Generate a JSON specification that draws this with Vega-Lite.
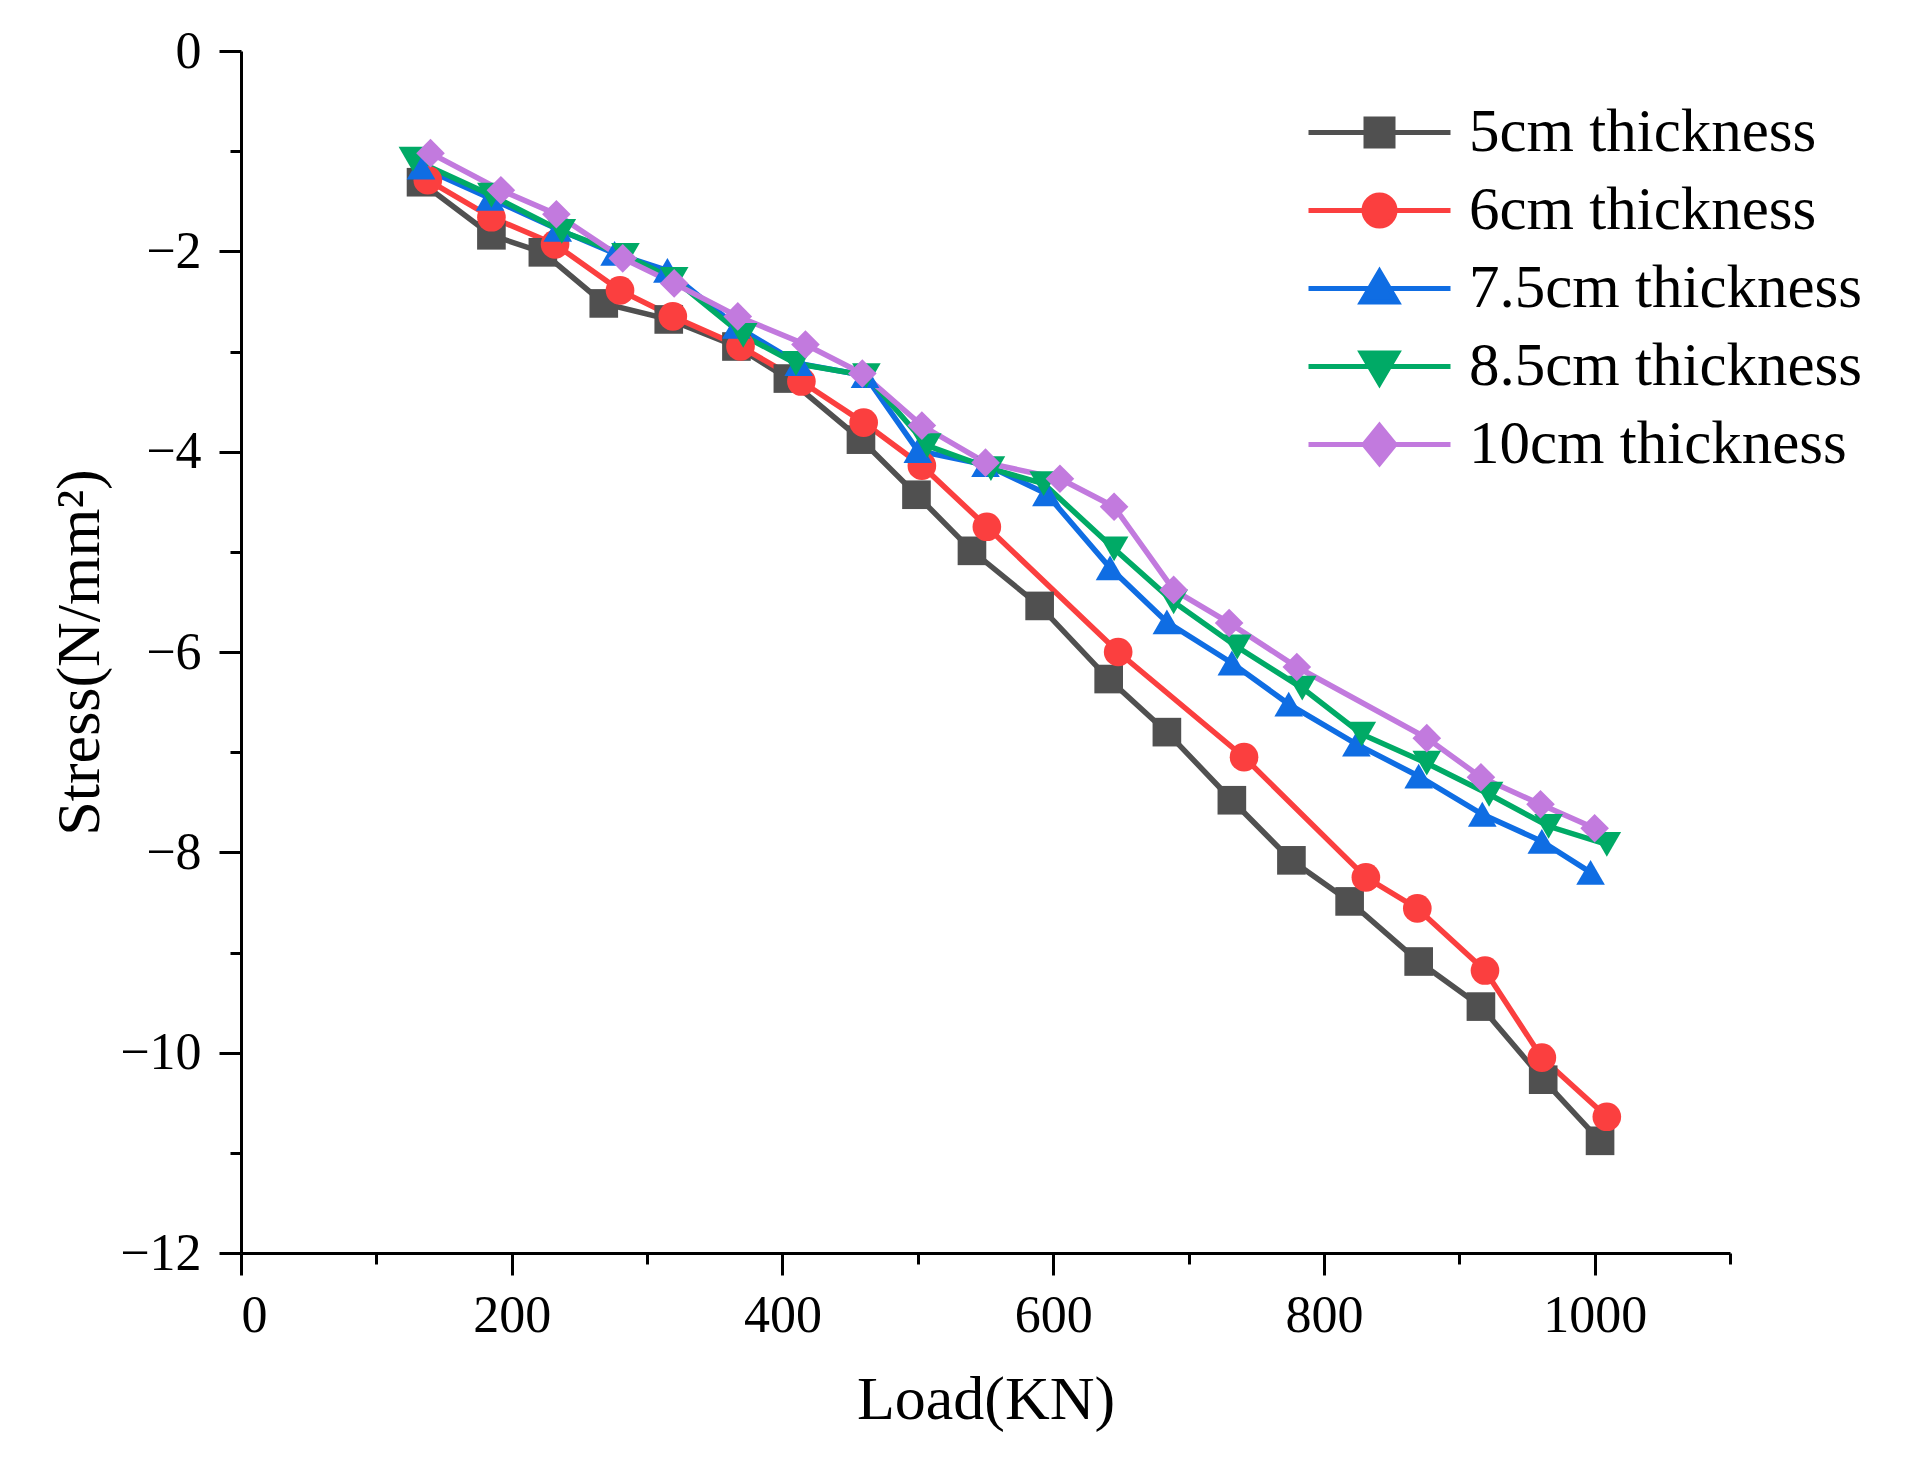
{
  "$schema": "https://vega.github.io/schema/vega-lite/v6.json",
  "width": 1489,
  "height": 1202,
  "autosize": {"type": "none"},
  "padding": {"left": 241, "top": 51, "right": 180, "bottom": 219},
  "background": "white",
  "config": {
    "view": {"stroke": null},
    "font": "Liberation Serif",
    "axis": {
      "grid": false,
      "domainColor": "black",
      "domainWidth": 3,
      "tickColor": "black",
      "tickWidth": 3,
      "labelColor": "black",
      "titleColor": "black",
      "labelFont": "Liberation Serif",
      "titleFont": "Liberation Serif",
      "labelFontSize": 52,
      "titleFontSize": 62,
      "titleFontWeight": "normal"
    },
    "legend": {
      "orient": "none",
      "legendX": 1108,
      "legendY": 51,
      "padding": 0,
      "labelFont": "Liberation Serif",
      "labelFontSize": 61,
      "labelColor": "black",
      "labelOffset": 59,
      "rowPadding": 16,
      "symbolSize": 2500,
      "symbolStrokeWidth": 5,
      "symbolOpacity": 1,
      "labelLimit": 600
    }
  },
  "data": {
    "values": [
      {"series": "5cm thickness", "load": 133, "stress": -1.31},
      {"series": "5cm thickness", "load": 185, "stress": -1.84},
      {"series": "5cm thickness", "load": 223, "stress": -2.01},
      {"series": "5cm thickness", "load": 268, "stress": -2.52},
      {"series": "5cm thickness", "load": 316, "stress": -2.68},
      {"series": "5cm thickness", "load": 366, "stress": -2.95},
      {"series": "5cm thickness", "load": 404, "stress": -3.27},
      {"series": "5cm thickness", "load": 458, "stress": -3.88},
      {"series": "5cm thickness", "load": 499, "stress": -4.43},
      {"series": "5cm thickness", "load": 540, "stress": -4.99},
      {"series": "5cm thickness", "load": 590, "stress": -5.54},
      {"series": "5cm thickness", "load": 641, "stress": -6.27},
      {"series": "5cm thickness", "load": 684, "stress": -6.8},
      {"series": "5cm thickness", "load": 732, "stress": -7.48},
      {"series": "5cm thickness", "load": 776, "stress": -8.08},
      {"series": "5cm thickness", "load": 819, "stress": -8.49},
      {"series": "5cm thickness", "load": 870, "stress": -9.09},
      {"series": "5cm thickness", "load": 916, "stress": -9.54},
      {"series": "5cm thickness", "load": 962, "stress": -10.27},
      {"series": "5cm thickness", "load": 1004, "stress": -10.88},
      {"series": "6cm thickness", "load": 138, "stress": -1.29},
      {"series": "6cm thickness", "load": 185, "stress": -1.66},
      {"series": "6cm thickness", "load": 232, "stress": -1.93},
      {"series": "6cm thickness", "load": 280, "stress": -2.39},
      {"series": "6cm thickness", "load": 319, "stress": -2.65},
      {"series": "6cm thickness", "load": 369, "stress": -2.95},
      {"series": "6cm thickness", "load": 414, "stress": -3.3},
      {"series": "6cm thickness", "load": 460, "stress": -3.71},
      {"series": "6cm thickness", "load": 503, "stress": -4.14},
      {"series": "6cm thickness", "load": 551, "stress": -4.75},
      {"series": "6cm thickness", "load": 648, "stress": -6.0},
      {"series": "6cm thickness", "load": 741, "stress": -7.05},
      {"series": "6cm thickness", "load": 831, "stress": -8.25},
      {"series": "6cm thickness", "load": 869, "stress": -8.56},
      {"series": "6cm thickness", "load": 919, "stress": -9.18},
      {"series": "6cm thickness", "load": 961, "stress": -10.05},
      {"series": "6cm thickness", "load": 1009, "stress": -10.64},
      {"series": "7.5cm thickness", "load": 133, "stress": -1.16},
      {"series": "7.5cm thickness", "load": 184, "stress": -1.47},
      {"series": "7.5cm thickness", "load": 234, "stress": -1.78},
      {"series": "7.5cm thickness", "load": 276, "stress": -2.02},
      {"series": "7.5cm thickness", "load": 315, "stress": -2.19},
      {"series": "7.5cm thickness", "load": 366, "stress": -2.75},
      {"series": "7.5cm thickness", "load": 412, "stress": -3.12},
      {"series": "7.5cm thickness", "load": 461, "stress": -3.24},
      {"series": "7.5cm thickness", "load": 500, "stress": -3.99},
      {"series": "7.5cm thickness", "load": 550, "stress": -4.13},
      {"series": "7.5cm thickness", "load": 595, "stress": -4.42},
      {"series": "7.5cm thickness", "load": 642, "stress": -5.16},
      {"series": "7.5cm thickness", "load": 684, "stress": -5.7},
      {"series": "7.5cm thickness", "load": 732, "stress": -6.11},
      {"series": "7.5cm thickness", "load": 774, "stress": -6.52},
      {"series": "7.5cm thickness", "load": 824, "stress": -6.92},
      {"series": "7.5cm thickness", "load": 870, "stress": -7.24},
      {"series": "7.5cm thickness", "load": 917, "stress": -7.62},
      {"series": "7.5cm thickness", "load": 961, "stress": -7.89},
      {"series": "7.5cm thickness", "load": 997, "stress": -8.2},
      {"series": "8.5cm thickness", "load": 127, "stress": -1.08},
      {"series": "8.5cm thickness", "load": 185, "stress": -1.44},
      {"series": "8.5cm thickness", "load": 237, "stress": -1.8},
      {"series": "8.5cm thickness", "load": 284, "stress": -2.04},
      {"series": "8.5cm thickness", "load": 320, "stress": -2.28},
      {"series": "8.5cm thickness", "load": 371, "stress": -2.84},
      {"series": "8.5cm thickness", "load": 410, "stress": -3.12},
      {"series": "8.5cm thickness", "load": 462, "stress": -3.24},
      {"series": "8.5cm thickness", "load": 507, "stress": -3.94},
      {"series": "8.5cm thickness", "load": 554, "stress": -4.17},
      {"series": "8.5cm thickness", "load": 593, "stress": -4.32},
      {"series": "8.5cm thickness", "load": 645, "stress": -4.97},
      {"series": "8.5cm thickness", "load": 689, "stress": -5.5},
      {"series": "8.5cm thickness", "load": 736, "stress": -5.95},
      {"series": "8.5cm thickness", "load": 784, "stress": -6.36},
      {"series": "8.5cm thickness", "load": 828, "stress": -6.82},
      {"series": "8.5cm thickness", "load": 876, "stress": -7.11},
      {"series": "8.5cm thickness", "load": 922, "stress": -7.42},
      {"series": "8.5cm thickness", "load": 966, "stress": -7.74},
      {"series": "8.5cm thickness", "load": 1009, "stress": -7.92},
      {"series": "10cm thickness", "load": 140, "stress": -1.02},
      {"series": "10cm thickness", "load": 192, "stress": -1.39},
      {"series": "10cm thickness", "load": 233, "stress": -1.63},
      {"series": "10cm thickness", "load": 282, "stress": -2.07},
      {"series": "10cm thickness", "load": 320, "stress": -2.32},
      {"series": "10cm thickness", "load": 367, "stress": -2.65},
      {"series": "10cm thickness", "load": 417, "stress": -2.93},
      {"series": "10cm thickness", "load": 459, "stress": -3.22},
      {"series": "10cm thickness", "load": 503, "stress": -3.74},
      {"series": "10cm thickness", "load": 550, "stress": -4.11},
      {"series": "10cm thickness", "load": 605, "stress": -4.27},
      {"series": "10cm thickness", "load": 645, "stress": -4.55},
      {"series": "10cm thickness", "load": 689, "stress": -5.38},
      {"series": "10cm thickness", "load": 730, "stress": -5.71},
      {"series": "10cm thickness", "load": 780, "stress": -6.15},
      {"series": "10cm thickness", "load": 876, "stress": -6.86},
      {"series": "10cm thickness", "load": 916, "stress": -7.25},
      {"series": "10cm thickness", "load": 960, "stress": -7.52},
      {"series": "10cm thickness", "load": 1000, "stress": -7.76}
    ]
  },
  "layer": [
    {
      "mark": {"type": "line", "strokeWidth": 5.5},
      "encoding": {
        "x": {
          "field": "load", "type": "quantitative",
          "scale": {"domain": [0, 1100], "nice": false, "zero": false},
          "axis": {
            "title": "Load(KN)",
            "values": [0, 200, 400, 600, 800, 1000],
            "format": "d",
            "tickSize": 22,
            "labelPadding": 15,
            "titlePadding": 28
          }
        },
        "y": {
          "field": "stress", "type": "quantitative",
          "scale": {"domain": [-12, 0], "nice": false, "zero": false},
          "axis": {
            "title": "Stress(N/mm²)",
            "values": [-12, -10, -8, -6, -4, -2, 0],
            "tickSize": 22,
            "labelPadding": 18,
            "titlePadding": 8
          }
        },
        "color": {
          "field": "series", "type": "nominal",
          "scale": {
            "domain": ["5cm thickness", "6cm thickness", "7.5cm thickness", "8.5cm thickness", "10cm thickness"],
            "range": ["#505050", "#fb3f3f", "#0f6de3", "#00aa66", "#c27ade"]
          },
          "legend": null
        },
        "order": {"field": "load", "type": "quantitative"}
      }
    },
    {
      "mark": {"type": "point", "filled": true, "opacity": 1},
      "encoding": {
        "x": {
          "field": "load", "type": "quantitative",
          "axis": {
            "orient": "bottom",
            "values": [100, 300, 500, 700, 900, 1100],
            "tickSize": 11,
            "labels": false,
            "domain": false,
            "title": null
          }
        },
        "y": {
          "field": "stress", "type": "quantitative",
          "axis": {
            "orient": "left",
            "values": [-11, -9, -7, -5, -3, -1],
            "tickSize": 11,
            "labels": false,
            "domain": false,
            "title": null
          }
        },
        "color": {"field": "series", "type": "nominal", "legend": null},
        "shape": {
          "field": "series", "type": "nominal", "sort": null,
          "scale": {"range": ["square", "circle", "triangle-up", "triangle-down", "diamond"]},
          "legend": null
        },
        "size": {"value": 820}
      }
    },
    {
      "mark": {"type": "point", "filled": true, "opacity": 0},
      "encoding": {
        "x": {"field": "load", "type": "quantitative", "axis": null},
        "y": {"field": "stress", "type": "quantitative", "axis": null},
        "fill": {
          "field": "series", "type": "nominal",
          "scale": {
            "domain": ["5cm thickness", "6cm thickness", "7.5cm thickness", "8.5cm thickness", "10cm thickness"],
            "range": ["#505050", "#fb3f3f", "#0f6de3", "#00aa66", "#c27ade"]
          },
          "legend": {"title": null}
        },
        "stroke": {
          "field": "series", "type": "nominal",
          "scale": {
            "domain": ["5cm thickness", "6cm thickness", "7.5cm thickness", "8.5cm thickness", "10cm thickness"],
            "range": ["#505050", "#fb3f3f", "#0f6de3", "#00aa66", "#c27ade"]
          },
          "legend": {"title": null}
        },
        "shape": {
          "field": "series", "type": "nominal",
          "scale": {
            "domain": ["5cm thickness", "6cm thickness", "7.5cm thickness", "8.5cm thickness", "10cm thickness"],
            "range": [
              "M-2.84,0H2.84M-0.54,-0.54H0.54V0.54H-0.54Z",
              "M-2.84,0H2.84M-0.62,0A0.62,0.62,0,1,1,0.62,0A0.62,0.62,0,1,1,-0.62,0Z",
              "M-2.84,0H2.84M0,-0.68L0.72,0.54H-0.72Z",
              "M-2.84,0H2.84M0,0.68L0.72,-0.54H-0.72Z",
              "M-2.84,0H2.84M0,-0.76L0.62,0L0,0.76L-0.62,0Z"
            ]
          },
          "legend": {"title": null}
        }
      }
    }
  ],
  "resolve": {
    "scale": {"shape": "independent", "fill": "independent", "stroke": "independent"},
    "axis": {"x": "independent", "y": "independent"}
  }
}
